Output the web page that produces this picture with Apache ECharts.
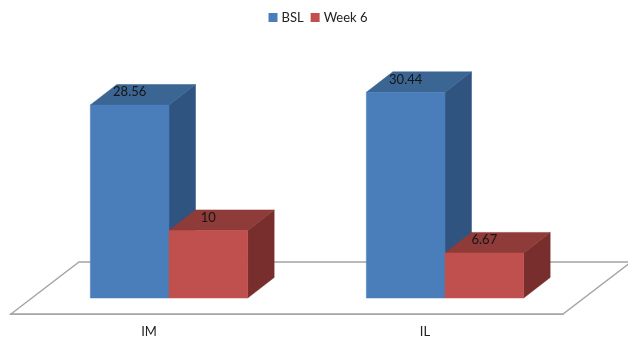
<!DOCTYPE html>
<html>
<head>
<meta charset="utf-8">
<style>html,body{margin:0;padding:0;background:#fff}#chart{width:628px;height:337px}</style>
<script src="https://cdn.jsdelivr.net/npm/echarts@6/dist/echarts.min.js"></script>
</head>
<body>
<div id="chart"></div>
<script>
const categories = ['IM', 'IL'];
const bslValues = [28.56, 30.44];
const week6Values = [10, 6.67];
const bslColors = { front: '#4a7ebb', top: '#3b6593', side: '#2f5480' };
const week6Colors = { front: '#c0504d', top: '#8e3b39', side: '#782e2c' };

// Oblique projection: bars stand partway into the floor plane.
const BASE_SHIFT = [20, -16];
const DEPTH = [26.5, -20.5];
const FLOOR_DEPTH = [68, -52];
const BAR_SHARE = 0.285;

function bar3d(colors, slot) {
  return function (params, api) {
    const idx = api.value(0);
    const base = api.coord([idx, 0]);
    const top = api.coord([idx, api.value(1)]);
    const w = api.size([1, 0])[0] * BAR_SHARE;
    const x0 = base[0] + BASE_SHIFT[0] + slot * w;
    const x1 = x0 + w;
    const yb = base[1] + BASE_SHIFT[1];
    const yt = top[1] + BASE_SHIFT[1];
    const [dx, dy] = DEPTH;
    const poly = (points, fill) => ({
      type: 'polygon',
      shape: { points },
      style: { fill, stroke: fill, lineWidth: 0.5 }
    });
    return {
      type: 'group',
      children: [
        poly([[x1, yb], [x1 + dx, yb + dy], [x1 + dx, yt + dy], [x1, yt]], colors.side),
        poly([[x0, yt], [x1, yt], [x1 + dx, yt + dy], [x0 + dx, yt + dy]], colors.top),
        poly([[x0, yb], [x1, yb], [x1, yt], [x0, yt]], colors.front),
        {
          type: 'text',
          style: {
            text: String(api.value(1)),
            x: (x0 + x1) / 2,
            y: yt - 13,
            align: 'center',
            verticalAlign: 'middle',
            fill: '#151515',
            font: '13px Lato'
          }
        }
      ]
    };
  };
}

function floor(params) {
  const cs = params.coordSys;
  const yf = cs.y + cs.height;
  const [dx, dy] = FLOOR_DEPTH;
  return {
    type: 'polygon',
    shape: {
      points: [[cs.x, yf], [cs.x + cs.width, yf], [cs.x + cs.width + dx, yf + dy], [cs.x + dx, yf + dy]]
    },
    style: { fill: '#fff', stroke: '#a4a4a4', lineWidth: 1.4 },
    silent: true
  };
}

const toRows = values => values.map((v, i) => [i, v]);

const chart = echarts.init(document.getElementById('chart'), null, { renderer: 'canvas' });
chart.setOption({
  animation: false,
  backgroundColor: '#fff',
  textStyle: { fontFamily: 'Lato' },
  legend: {
    data: ['BSL', 'Week 6'],
    left: 268.5,
    top: 11,
    padding: 0,
    icon: 'rect',
    itemWidth: 9,
    itemHeight: 9,
    itemGap: 7,
    textStyle: { fontFamily: 'Lato', fontSize: 13, color: '#222', padding: [0, 0, 0, -1] }
  },
  grid: { left: 11, width: 552, bottom: 23, top: 77.5, outerBoundsMode: 'none' },
  xAxis: {
    type: 'category',
    data: categories,
    axisLine: { lineStyle: { color: '#acacac', width: 1.8 } },
    axisTick: { show: false },
    axisLabel: { fontFamily: 'Lato', fontSize: 13, color: '#222', margin: 11 }
  },
  yAxis: { type: 'value', min: 0, max: 35, show: false, splitLine: { show: false } },
  series: [
    { type: 'custom', silent: true, z: 1, data: [[0, 0]], renderItem: floor },
    {
      name: 'BSL', type: 'custom', z: 2, color: bslColors.front,
      itemStyle: { color: bslColors.front },
      encode: { x: 0, y: 1 }, data: toRows(bslValues), renderItem: bar3d(bslColors, -1)
    },
    {
      name: 'Week 6', type: 'custom', z: 3, color: week6Colors.front,
      itemStyle: { color: week6Colors.front },
      encode: { x: 0, y: 1 }, data: toRows(week6Values), renderItem: bar3d(week6Colors, 0)
    }
  ]
});
</script>
</body>
</html>
